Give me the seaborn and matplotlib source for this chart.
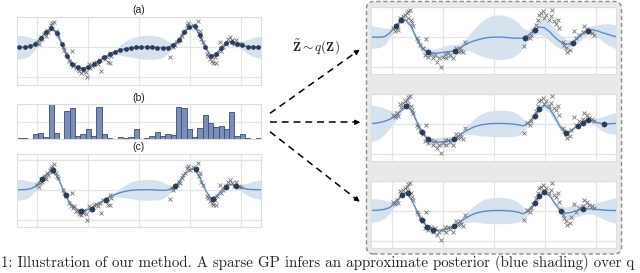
import numpy as np
import matplotlib
matplotlib.use("Agg")
import matplotlib.pyplot as plt
import seaborn as sns
from matplotlib.patches import FancyBboxPatch, FancyArrowPatch
from matplotlib.lines import Line2D

# ---------------- data ----------------
# evaluation grid: axis ends plus the 46 inducing-point/bin centres
GRID_X = [-0.4, -0.348, -0.243, -0.139, -0.035, 0.070, 0.174, 0.278, 0.383, 0.487,
          0.591, 0.696, 0.800, 0.904, 1.009, 1.113, 1.217, 1.322, 1.426, 1.530,
          1.635, 1.739, 1.843, 1.948, 2.052, 2.157, 2.261, 2.365, 2.470, 2.574,
          2.678, 2.783, 2.887, 2.991, 3.096, 3.200, 3.304, 3.409, 3.513, 3.617,
          3.722, 3.826, 3.930, 4.035, 4.139, 4.243, 4.348, 4.4]

MEAN_A = [0, 0, 0.01, 0.05, 0.22, 0.6, 1.0, 1.25, 0.98, 0.22,
          -0.6, -1.1, -1.34, -1.43, -1.32, -1.12, -0.9, -0.68, -0.47, -0.32,
          -0.19, -0.1, -0.04, -0.01, 0, 0, 0, -0.02, -0.04, -0.02,
          0.15, 0.5, 1.0, 1.36, 1.4, 0.8, 0.0, -0.57, -0.47, -0.08,
          0.31, 0.36, 0.22, 0.12, 0.03, 0.01, 0, 0]
STD_A = [0.8, 0.8, 0.74, 0.6, 0.35, 0.12, 0.06, 0.06, 0.06, 0.06,
         0.06, 0.06, 0.06, 0.06, 0.06, 0.06, 0.06, 0.06, 0.1, 0.15,
         0.35, 0.5, 0.62, 0.72, 0.78, 0.8, 0.8, 0.76, 0.65, 0.4,
         0.12, 0.06, 0.06, 0.06, 0.06, 0.06, 0.06, 0.06, 0.06, 0.06,
         0.06, 0.06, 0.15, 0.3, 0.48, 0.62, 0.72, 0.75]
STD_C = [0.7, 0.7, 0.65, 0.52, 0.3, 0.1, 0.06, 0.06, 0.06, 0.06,
         0.06, 0.06, 0.06, 0.06, 0.06, 0.06, 0.06, 0.06, 0.1, 0.15,
         0.3, 0.45, 0.56, 0.64, 0.68, 0.7, 0.7, 0.66, 0.56, 0.35,
         0.1, 0.06, 0.06, 0.06, 0.06, 0.06, 0.06, 0.06, 0.06, 0.06,
         0.06, 0.06, 0.12, 0.25, 0.42, 0.55, 0.63, 0.66]

MEAN_R1 = [0, 0, -0.01, 0.03, 0.28, 0.7, 1.1, 1.12, 0.7, -0.1,
           -0.75, -0.98, -1.06, -1.06, -1.01, -0.97, -0.92, -0.76, -0.53, -0.35,
           -0.23, -0.13, -0.05, -0.01, 0, 0, -0.03, -0.06, -0.07, -0.07,
           0.14, 0.43, 0.67, 0.62, 0.35, -0.02, -0.32, -0.48, -0.44, -0.15,
           0.15, 0.4, 0.49, 0.41, 0.28, 0.18, 0.06, 0.03]
STD_R1 = [0.75, 0.74, 0.68, 0.55, 0.32, 0.13, 0.1, 0.12, 0.18, 0.22,
          0.28, 0.3, 0.26, 0.3, 0.4, 0.45, 0.4, 0.3, 0.32, 0.55,
          0.85, 1.1, 1.3, 1.42, 1.48, 1.48, 1.42, 1.3, 1.05, 0.65,
          0.32, 0.35, 0.48, 0.56, 0.6, 0.55, 0.45, 0.33, 0.25, 0.3,
          0.3, 0.25, 0.28, 0.42, 0.6, 0.72, 0.78, 0.8]

MEAN_R2 = [0, 0.01, 0.06, 0.15, 0.28, 0.5, 0.82, 1.2, 0.9, 0.15,
           -0.55, -1.02, -1.22, -1.25, -1.21, -1.16, -1.03, -0.8, -0.55, -0.36,
           -0.2, -0.1, -0.04, -0.01, 0, 0, -0.01, -0.03, -0.08, -0.16,
           0.05, 0.45, 0.95, 1.22, 0.98, 0.4, -0.25, -0.62, -0.48, -0.2,
           0.03, 0.25, 0.16, 0.05, -0.03, -0.03, 0, 0]
STD_R2 = [1.2, 1.18, 1.08, 0.88, 0.6, 0.35, 0.15, 0.1, 0.15, 0.15,
          0.15, 0.2, 0.25, 0.3, 0.32, 0.3, 0.2, 0.15, 0.2, 0.37,
          0.57, 0.72, 0.8, 0.86, 0.88, 0.88, 0.87, 0.84, 0.72, 0.45,
          0.15, 0.1, 0.15, 0.25, 0.3, 0.3, 0.2, 0.12, 0.1, 0.1,
          0.1, 0.12, 0.18, 0.32, 0.5, 0.62, 0.7, 0.72]

MEAN_R3 = [0, 0.01, 0.03, 0.08, 0.2, 0.52, 0.95, 1.2, 0.75, 0.02,
           -0.65, -1.1, -1.28, -1.33, -1.29, -1.19, -1.04, -0.8, -0.55, -0.35,
           -0.19, -0.1, -0.04, -0.01, 0, 0, -0.02, -0.05, -0.1, -0.22,
           -0.04, 0.42, 0.98, 1.22, 0.98, 0.45, 0.0, -0.18, -0.13, -0.01,
           0.08, 0.11, 0.11, 0.07, 0.03, 0.01, 0, 0]
STD_R3 = [0.78, 0.78, 0.72, 0.6, 0.4, 0.18, 0.1, 0.1, 0.1, 0.1,
          0.1, 0.1, 0.1, 0.1, 0.1, 0.1, 0.1, 0.15, 0.28, 0.42,
          0.57, 0.72, 0.82, 0.87, 0.88, 0.88, 0.86, 0.8, 0.68, 0.45,
          0.2, 0.1, 0.1, 0.1, 0.1, 0.15, 0.3, 0.4, 0.45, 0.42,
          0.38, 0.35, 0.36, 0.45, 0.6, 0.72, 0.82, 0.85]

# (b) histogram weights, one per inducing point
HIST_B = [0.04, 0.02, 0.01, 0.13, 0.16, 0.05, 1.0, 0.17, 0.01, 0.8,
          0.9, 0.1, 0.13, 0.3, 0.1, 0.92, 0.13, 0.02, 0.0, 0.05,
          0.04, 0.06, 0.3, 0.01, 0.02, 0.1, 0.2, 0.08, 0.15, 0.12,
          0.92, 0.88, 0.3, 0.05, 0.32, 0.7, 0.45, 0.35, 0.38, 0.28,
          0.78, 0.08, 0.15, 0.03, 0.01, 0.04]

# observations shown on the left panels
LEFT_X = [0.0, 0.03, 0.05, 0.08, 0.1, 0.13, 0.15, 0.17, 0.2, 0.22, 0.25, 0.28, 0.3, 0.33, 0.3, 0.37, 0.4, 0.42,
          0.5, 0.53, 0.57, 0.62, 0.66, 0.68, 0.7, 0.73, 0.76, 0.8, 0.83, 0.86, 0.9, 0.93, 0.96, 0.99, 1.02, 1.05, 1.08,
          1.12, 1.15, 1.2, 1.24, 1.25, 1.3, 1.33, 1.37, 1.4, 1.44, 1.46, 1.43,
          2.62, 2.65, 2.68, 2.72, 2.75, 2.78, 2.8, 2.84, 2.87, 2.9, 2.94, 2.97, 3.0, 3.06, 3.12, 3.17, 3.19, 3.2, 3.23, 3.27,
          3.33, 3.36, 3.4, 3.43, 3.46, 3.5, 3.52, 3.54, 3.6, 3.62, 3.66, 3.72, 3.75, 3.8, 3.83, 3.87, 3.9, 3.97, 4.0]
LEFT_Y = [0.3, 0.2, 0.45, 0.7, 0.55, 0.85, 0.95, 0.72, 1.15, 1.0, 1.3, 1.45, 1.6, 1.7, 1.2, 1.1, 0.95, 0.8,
          0.0, -0.2, -0.45, -0.9, -1.1, -0.22, -1.25, -1.1, -1.4, -1.45, -1.6, -1.7, -1.55, -1.35, -1.65, -2.0, -1.1, -1.35, -1.25,
          -1.05, -0.95, -1.1, -0.88, -1.55, -0.72, -0.78, -0.62, -1.0, -1.05, -0.55, -0.35,
          -0.62, 0.1, 0.0, 0.18, 0.35, 0.55, 0.45, 0.78, 1.0, 1.1, 1.45, 1.6, 1.33, 1.5, 1.3, 1.78, 0.9, 1.1, 0.55, 0.33,
          -0.45, -0.55, -0.78, -0.9, -1.05, -0.67, -1.05, -0.45, 0.33, -0.22, 0.0, 0.22, 0.55, 0.67, 0.45, 0.22, 0.5, 0.22, 0.2]

# observations shown on the right panels
RIGHT_X = [0.03, 0.06, 0.1, 0.13, 0.16, 0.19, 0.23, 0.26, 0.29, 0.32, 0.36, 0.31, 0.38, 0.39, 0.42,
           0.49, 0.52, 0.55, 0.62, 0.68, 0.65, 0.71, 0.77, 0.81, 0.84, 0.88, 0.92, 0.97, 1.01, 1.04, 1.07, 1.1, 1.14,
           1.2, 1.25, 1.29, 1.33, 1.36, 1.4, 1.43,
           2.6, 2.65, 2.7, 2.73, 2.76, 2.83, 2.86, 2.89, 2.92, 2.96, 2.99, 3.02, 3.09, 3.12, 3.15, 3.18, 3.22, 3.25, 3.28,
           3.35, 3.38, 3.41, 3.44, 3.5, 3.52, 3.57, 3.61, 3.67, 3.74, 3.77, 3.82, 3.87, 3.93, 3.96]
RIGHT_Y = [0.6, 0.42, 0.71, 0.49, 1.27, 1.09, 1.38, 1.49, 1.6, 1.76, 1.82, 1.27, 1.16, 0.93, 0.71,
           -0.07, -0.24, -0.51, -0.73, -0.13, -1.18, -1.29, -1.13, -1.4, -1.18, -1.62, -1.4, -1.96, -1.29, -1.13, -1.4, -1.07, -1.22,
           -1.4, -0.73, -0.96, -0.69, -0.91, -1.0, -0.33,
           -0.62, 0.04, -0.07, 0.16, 0.42, 0.82, 1.16, 1.49, 1.6, 1.71, 1.27, 1.49, 1.16, 1.38, 1.82, 1.04, 0.87, 1.16, 0.6,
           -0.33, -0.51, -0.73, -0.96, -0.84, -0.4, 0.42, -0.07, 0.16, 0.33, 0.71, 0.56, 0.38, 0.27, 0.16]

# selected inducing points
C_IND_X = [0.1, 0.32, 0.57, 0.86, 1.07, 1.35, 2.72, 3.12, 3.45, 3.71, 3.91]
C_IND_Y = [0.75, 1.3, -0.35, -1.4, -1.27, -0.67, 0.22, 1.4, -0.6, 0.2, 0.25]
R1_IND_X = [0.09, 0.18, 0.72, 1.24, 2.61, 2.8, 3.55, 3.84]
R1_IND_Y = [0.75, 1.12, -0.98, -0.91, -0.07, 0.5, -0.38, 0.42]
R2_IND_X = [0.28, 0.59, 0.72, 1.22, 2.8, 2.89, 3.41, 3.64, 3.74, 3.84, 4.16]
R2_IND_Y = [1.2, -0.55, -1.05, -1.03, 0.52, 0.95, -0.62, -0.15, 0.05, 0.25, -0.03]
R3_IND_X = [0.2, 0.31, 0.6, 0.7, 0.8, 1.22, 2.81, 2.89, 2.99, 3.32, 3.74]
R3_IND_Y = [1.05, 1.15, -0.65, -1.1, -1.28, -1.04, 0.5, 0.98, 1.22, -0.02, 0.1]

TITLES = ["(a)", "(b)", "(c)"]
ARROW_LABEL = r"$\tilde{\mathbf{Z}} \sim q(\mathbf{Z})$"
CAPTION = "1: Illustration of our method. A sparse GP infers an approximate posterior (blue shading) over q"

# ---------------- style ----------------
sns.set_theme(style="whitegrid", rc={
    "grid.color": "#e4e4e4", "grid.linewidth": 0.9,
    "axes.edgecolor": "#dedede", "axes.linewidth": 0.8,
})
plt.rcParams["font.family"] = ["Liberation Sans", "DejaVu Sans"]
plt.rcParams["mathtext.fontset"] = "cm"

BAND = "#d7e2ef"
LINE = "#5b8bc7"
DOT = "#2c3d5c"
CROSS = "#727272"

W, H = 640, 273
fig = plt.figure(figsize=(W / 100, H / 100), dpi=100)
fig.patch.set_facecolor("white")


def add_ax(L, R, T, B):
    return fig.add_axes([L / W, 1 - B / H, (R - L) / W, (B - T) / H])


def style(ax, ylim, yticks):
    ax.set_xlim(-0.4, 4.4)
    ax.set_ylim(*ylim)
    ax.set_xticks([0, 1, 2, 3, 4])
    ax.set_yticks(yticks)
    ax.set_xticklabels([])
    ax.set_yticklabels([])
    ax.tick_params(length=0)
    ax.set_xlabel("")
    ax.set_ylabel("")
    ax.set_axisbelow(True)
    ax.set_facecolor("white")


gx = np.array(GRID_X)


def gp_panel(ax, mean, std, ix, iy, cx, cy, ylim, dot_s=14, line_w=1.0):
    m = np.array(mean)
    s = np.array(std)
    ax.fill_between(gx, m - s, m + s, color=BAND, lw=0, zorder=1)
    sns.lineplot(x=gx, y=m, ax=ax, color=LINE, lw=line_w, zorder=2, sort=False)
    sns.scatterplot(x=cx, y=cy, ax=ax, marker="x", s=8, color=CROSS,
                    linewidth=0.6, zorder=3, legend=False)
    sns.scatterplot(x=ix, y=iy, ax=ax, s=dot_s, color=DOT, edgecolor="#1c2840",
                    linewidth=0.3, zorder=4, legend=False)
    style(ax, ylim, [-2, 0, 2])


# left column
ax_a = add_ax(16.7, 261, 17.2, 84.8)
gp_panel(ax_a, MEAN_A, STD_A, GRID_X[1:-1], MEAN_A[1:-1], LEFT_X, LEFT_Y,
         (-2.5, 2.0), dot_s=9, line_w=1.3)

ax_b = add_ax(16.7, 261, 104, 139)
sns.histplot(x=GRID_X[1:-1], weights=HIST_B, bins=46, binrange=(-0.4, 4.4),
             ax=ax_b, color="#7488b3", edgecolor="#3a4c78", linewidth=0.6,
             alpha=0.95, zorder=2)
style(ax_b, (0, 1.0), [0, 0.5, 1.0])

ax_c = add_ax(16.7, 261, 154, 227)
gp_panel(ax_c, MEAN_A, STD_C, C_IND_X, C_IND_Y, LEFT_X, LEFT_Y, (-2.5, 2.4))

for t, y in zip(TITLES, [10, 98, 147.5]):
    fig.text(138.9 / W, 1 - y / H, t, ha="center", va="center", fontsize=7.5,
             color="#222222")

# right dashed box
box = FancyBboxPatch((3.665, (H - 254) / 100), 2.55, 2.525,
                     boxstyle="round,pad=0,rounding_size=0.07",
                     transform=fig.dpi_scale_trans, facecolor="#e9e9e9",
                     edgecolor="#8c8c8c", linewidth=1.0, linestyle=(0, (3, 2)),
                     zorder=-5)
fig.add_artist(box)

ax_r1 = add_ax(371.3, 616.3, 7, 74)
gp_panel(ax_r1, MEAN_R1, STD_R1, R1_IND_X, R1_IND_Y, RIGHT_X, RIGHT_Y, (-2.45, 2.0))
ax_r2 = add_ax(371.3, 616.3, 93.5, 161)
gp_panel(ax_r2, MEAN_R2, STD_R2, R2_IND_X, R2_IND_Y, RIGHT_X, RIGHT_Y, (-2.5, 2.0))
ax_r3 = add_ax(371.3, 616.3, 180.5, 248)
gp_panel(ax_r3, MEAN_R3, STD_R3, R3_IND_X, R3_IND_Y, RIGHT_X, RIGHT_Y, (-2.5, 2.0))

# dashed arrows (pixel coordinates -> inches)
def px(x, y):
    return (x / 100, (H - y) / 100)

for (x0, y0), (x1, y1) in [((270, 113.3), (362, 48)),
                           ((270, 122.3), (363, 122.3)),
                           ((270, 131.7), (362, 203.5))]:
    frac = 0.93
    xm, ym = x0 + (x1 - x0) * frac, y0 + (y1 - y0) * frac
    a0, a1 = px(x0, y0), px(xm, ym)
    fig.add_artist(Line2D([a0[0], a1[0]], [a0[1], a1[1]], transform=fig.dpi_scale_trans,
                          color="black", lw=1.1, linestyle=(0, (4.5, 3.2))))
    fig.add_artist(FancyArrowPatch(px(xm - (x1 - x0) * 0.02, ym - (y1 - y0) * 0.02), px(x1, y1),
                                   transform=fig.dpi_scale_trans, arrowstyle="-|>",
                                   mutation_scale=7, color="black", lw=1.0))

fig.text(316 / W, 1 - 47 / H, ARROW_LABEL, ha="center", va="center", fontsize=9.5)

fig.text(1 / W, 1 - 263 / H, CAPTION, ha="left", va="center", fontsize=10.8,
         family=["cmr10", "DejaVu Serif"])

fig.savefig("out.png", dpi=100)
